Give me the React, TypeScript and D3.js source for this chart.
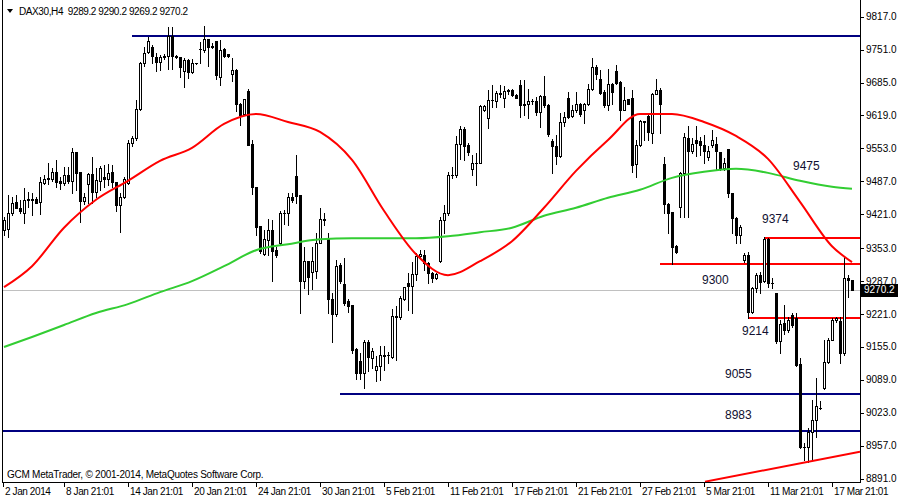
import React from 'react';
import * as d3 from 'd3';

const opens = [9390,9391,9423,9446,9433,9423,9450,9451,9452,9446,9484,9491,9491,9505,9487,9484,9500,9488,9545,9506,9448,9482,9502,9466,9488,9495,9491,9506,9485,9439,9455,9483,9563,9573,9633,9724,9746,9756,9737,9727,9736,9739,9778,9738,9737,9709,9730,9706,9724,9752,9750,9772,9758,9769,9697,9752,9742,9702,9710,9643,9622,9669,9562,9475,9398,9341,9370,9390,9349,9363,9423,9423,9455,9498,9460,9288,9328,9306,9308,9364,9411,9373,9251,9221,9319,9281,9247,9239,9150,9126,9102,9164,9132,9109,9116,9137,9139,9134,9216,9216,9251,9284,9278,9301,9337,9339,9323,9304,9293,9328,9410,9423,9500,9500,9562,9591,9560,9511,9523,9524,9630,9613,9650,9649,9664,9655,9669,9670,9660,9680,9641,9642,9649,9649,9625,9658,9640,9567,9558,9538,9605,9655,9617,9629,9642,9629,9642,9673,9717,9693,9667,9640,9683,9709,9687,9630,9653,9655,9522,9560,9607,9618,9583,9663,9671,9522,9442,9426,9357,9436,9503,9573,9547,9570,9567,9560,9536,9560,9562,9546,9513,9551,9463,9413,9380,9329,9339,9226,9273,9299,9288,9371,9284,9263,9166,9203,9190,9219,9213,9121,8955,8955,8985,9009,9032,9072,9124,9170,9209,9208,9142,9293,9289.2];
const highs = [9416,9460,9456,9460,9450,9473,9466,9464,9456,9496,9500,9524,9513,9530,9496,9516,9516,9553,9545,9506,9463,9503,9536,9513,9518,9520,9522,9520,9485,9463,9495,9570,9578,9650,9726,9757,9777,9760,9744,9740,9742,9797,9797,9740,9737,9734,9732,9732,9725,9766,9798,9772,9764,9769,9770,9754,9743,9734,9712,9645,9653,9672,9570,9476,9398,9390,9411,9410,9355,9428,9430,9464,9464,9540,9460,9355,9328,9355,9383,9433,9423,9383,9263,9329,9323,9333,9251,9239,9152,9142,9169,9169,9152,9136,9156,9156,9144,9231,9237,9257,9276,9303,9326,9343,9349,9349,9326,9306,9303,9416,9440,9506,9516,9577,9597,9595,9563,9540,9543,9640,9640,9670,9680,9669,9680,9678,9673,9672,9663,9690,9691,9673,9653,9657,9660,9698,9643,9571,9580,9623,9625,9667,9640,9667,9645,9645,9683,9734,9720,9710,9670,9712,9685,9720,9689,9677,9653,9671,9570,9610,9608,9620,9664,9693,9675,9535,9443,9426,9360,9506,9583,9597,9573,9597,9575,9580,9558,9589,9575,9546,9533,9551,9463,9416,9400,9344,9346,9276,9303,9306,9376,9373,9293,9264,9209,9239,9216,9224,9223,9132,8962,8992,9049,9092,9046,9169,9174,9213,9216,9216,9336,9299,9290.2];
const lows = [9380,9375,9420,9433,9423,9404,9436,9420,9443,9421,9482,9482,9488,9476,9471,9480,9483,9463,9470,9406,9442,9444,9443,9456,9470,9476,9480,9476,9428,9385,9453,9482,9557,9570,9630,9718,9744,9724,9709,9710,9732,9712,9712,9734,9697,9676,9694,9704,9722,9725,9747,9718,9754,9692,9680,9737,9737,9689,9627,9600,9620,9560,9462,9380,9343,9339,9339,9288,9335,9360,9402,9400,9446,9443,9224,9274,9261,9271,9293,9363,9400,9223,9164,9217,9283,9239,9226,9142,9090,9090,9072,9106,9112,9086,9089,9109,9122,9132,9129,9211,9249,9229,9224,9289,9335,9309,9283,9286,9291,9326,9383,9420,9493,9496,9531,9530,9540,9500,9480,9523,9627,9593,9637,9637,9657,9637,9663,9658,9655,9615,9620,9613,9643,9620,9595,9637,9578,9503,9522,9536,9597,9613,9615,9625,9618,9603,9640,9671,9693,9662,9637,9629,9643,9683,9610,9629,9642,9506,9496,9558,9570,9570,9564,9663,9583,9423,9383,9321,9344,9416,9416,9416,9543,9538,9540,9523,9530,9556,9510,9510,9510,9456,9383,9364,9364,9326,9213,9223,9266,9263,9286,9276,9273,9162,9142,9182,9186,9196,9116,8952,8929,8925,8929,8975,9030,9070,9122,9169,9206,9122,9139,9256,9269.2];
const closes = [9410,9424,9444,9433,9428,9450,9451,9450,9444,9485,9491,9493,9505,9486,9484,9500,9488,9545,9504,9448,9456,9502,9466,9490,9514,9491,9504,9485,9439,9456,9491,9563,9573,9633,9724,9744,9769,9738,9727,9736,9738,9778,9738,9737,9716,9730,9707,9724,9724,9753,9772,9756,9756,9700,9750,9739,9738,9710,9643,9620,9652,9560,9475,9396,9348,9371,9390,9348,9339,9423,9424,9455,9450,9458,9288,9328,9296,9328,9364,9411,9410,9251,9221,9317,9288,9244,9237,9148,9102,9102,9164,9134,9147,9117,9139,9139,9139,9217,9217,9253,9275,9277,9301,9337,9341,9323,9304,9293,9301,9410,9423,9500,9499,9562,9591,9558,9545,9523,9524,9638,9638,9650,9651,9665,9663,9669,9670,9660,9655,9641,9642,9648,9649,9625,9658,9640,9582,9557,9538,9605,9615,9615,9630,9642,9622,9642,9673,9716,9702,9665,9640,9683,9667,9685,9629,9651,9643,9520,9560,9607,9606,9585,9663,9671,9643,9442,9423,9356,9346,9503,9575,9547,9562,9563,9560,9547,9548,9570,9547,9513,9524,9463,9413,9380,9395,9339,9226,9273,9299,9286,9371,9283,9283,9166,9202,9190,9209,9199,9119,8955,8955,8985,9009,9036,9032,9124,9170,9209,9213,9142,9293,9289,9270.2];

const xTickLabels = ['2 Jan 2014','8 Jan 21:01','14 Jan 21:01','20 Jan 21:01','24 Jan 21:01','30 Jan 21:01','5 Feb 21:01','11 Feb 21:01','17 Feb 21:01','21 Feb 21:01','27 Feb 21:01','5 Mar 21:01','11 Mar 21:01','17 Mar 21:01'];
const xTickStep = 16;
const yTicks = [9817,9751,9685,9619,9553,9487,9421,9353,9287,9221,9155,9089,9023,8957,8891];

const maBars = [1,8,16,24,32,40,48,56,64,72,80,88,96,104,112,120,128,136,144,152,160,168,176,184,192,200,208,213];
const maFast = [9275,9317,9394,9450,9488,9528,9554,9602,9622,9606,9586,9530,9428,9341,9299,9327,9367,9434,9508,9570,9622,9622,9606,9578,9532,9446,9357,9325];
const maSlow = [9155,9175,9199,9223,9241,9265,9287,9317,9349,9361,9371,9373,9373,9373,9377,9385,9394,9418,9434,9454,9470,9494,9506,9512,9504,9488,9476,9472];

const blueLevels = [9779, 9061, 8987];
const blueFrom = [33, 85, 0];
const redLevels = [9374, 9321, 9214];
const redFrom = [191, 165, 187];
const trendBars = [176.25, 215];
const trendPrices = [8885, 8945];

const noteTexts = ['9475','9374','9300','9214','9055','8983'];
const noteBars = [198.25, 190.5, 175.5, 185.5, 181.25, 181.25];
const notePrices = [9510, 9404, 9281, 9179, 9093, 9011];

const header = 'DAX30,H4  9289.2 9290.2 9269.2 9270.2';
const copyright = 'GCM MetaTrader, \u00a9 2001-2014, MetaQuotes Software Corp.';
const lastPrice = 9270.2;

const W = 900, H = 500;
const plotRight = 860, plotBottom = 482;

export default function App() {
  const x = d3.scaleLinear().domain([0, 215]).range([0, 860]);
  const y = d3.scaleLinear().domain([8891, 9817]).range([478.7, 16.7]);
  const line = d3.line<[number, number]>().x(d => x(d[0])).y(d => y(d[1])).curve(d3.curveMonotoneX);
  const fontAxis = '"Liberation Sans", Arial, sans-serif';

  const candles = opens.map((o, i) => {
    const k = i + 1;
    const cx = Math.round(x(k));
    const c = closes[i];
    const yh = Math.round(y(highs[i]));
    const yl = Math.round(y(lows[i]));
    const yt = Math.round(y(Math.max(o, c)));
    const yb = Math.round(y(Math.min(o, c)));
    const bull = c >= o;
    const h = yb - yt;
    return (
      <g key={i}>
        <line x1={cx + 0.5} x2={cx + 0.5} y1={yh} y2={yl + 1} stroke="#000" strokeWidth={1} />
        {h < 1 ? (
          <line x1={cx - 1} x2={cx + 2} y1={yt + 0.5} y2={yt + 0.5} stroke="#000" strokeWidth={1} />
        ) : bull ? (
          <rect x={cx - 0.5} y={yt + 0.5} width={2} height={h} fill="#fff" stroke="#000" strokeWidth={1} />
        ) : (
          <rect x={cx - 1} y={yt} width={3} height={h + 1} fill="#000" />
        )}
      </g>
    );
  });

  const fastPts = maBars.map((b, i) => [b, maFast[i]] as [number, number]);
  const slowPts = maBars.map((b, i) => [b, maSlow[i]] as [number, number]);

  return (
    <svg width={W} height={H} style={{ position: 'absolute', left: 0, top: 0, background: '#fff' }}>
      <defs>
        <clipPath id="plot">
          <rect x={3} y={3} width={plotRight - 3} height={plotBottom - 3} />
        </clipPath>
      </defs>
      <rect x={0} y={0} width={W} height={H} fill="#fff" />
      <g clipPath="url(#plot)" shapeRendering="crispEdges">
        <line x1={0} x2={plotRight} y1={Math.round(y(lastPrice)) + 0.5} y2={Math.round(y(lastPrice)) + 0.5} stroke="#c0c0c0" />
        {blueLevels.map((p, i) => (
          <line key={'b' + i} x1={x(blueFrom[i])} x2={plotRight} y1={Math.round(y(p))} y2={Math.round(y(p))} stroke="#000080" strokeWidth={2} />
        ))}
        {redLevels.map((p, i) => (
          <line key={'r' + i} x1={x(redFrom[i])} x2={plotRight} y1={Math.round(y(p))} y2={Math.round(y(p))} stroke="#ff0000" strokeWidth={2} />
        ))}
        {candles}
      </g>
      <g clipPath="url(#plot)">
        <path d={line(slowPts) || ''} fill="none" stroke="#32cd32" strokeWidth={2} />
        <path d={line(fastPts) || ''} fill="none" stroke="#ff0000" strokeWidth={2} />
        <line x1={x(trendBars[0])} y1={y(trendPrices[0])} x2={x(trendBars[1])} y2={y(trendPrices[1])} stroke="#ff0000" strokeWidth={2} />
        {noteTexts.map((t, i) => (
          <text key={'n' + i} x={x(noteBars[i])} y={y(notePrices[i])} fontFamily={fontAxis} fontSize={12} fill="#101030">{t}</text>
        ))}
      </g>
      <g shapeRendering="crispEdges">
        <line x1={2.5} x2={2.5} y1={0} y2={plotBottom} stroke="#000" />
        <line x1={plotRight + 0.5} x2={plotRight + 0.5} y1={0} y2={plotBottom} stroke="#000" />
        <line x1={2} x2={plotRight + 1} y1={plotBottom + 0.5} y2={plotBottom + 0.5} stroke="#000" />
        {yTicks.map((t, i) => (
          <line key={'yt' + i} x1={plotRight} x2={plotRight + 4} y1={Math.round(y(t)) + 0.5} y2={Math.round(y(t)) + 0.5} stroke="#000" />
        ))}
        {xTickLabels.map((t, i) => (
          <line key={'xt' + i} x1={Math.max(3, x(i * xTickStep)) + 0.5} x2={Math.max(3, x(i * xTickStep)) + 0.5} y1={plotBottom} y2={plotBottom + 5} stroke="#000" />
        ))}
      </g>
      {yTicks.map((t, i) => (
        <text key={'yl' + i} x={866} y={y(t)} dy="0.35em" fontFamily={fontAxis} fontSize={10} fill="#000">{t.toFixed(1)}</text>
      ))}
      <rect x={861} y={Math.round(y(lastPrice)) - 6} width={37} height={13} fill="#000" />
      <text x={864} y={y(lastPrice)} dy="0.35em" fontFamily={fontAxis} fontSize={10} fill="#fff">{lastPrice.toFixed(1)}</text>
      {xTickLabels.map((t, i) => (
        <text key={'xl' + i} x={Math.max(3, x(i * xTickStep)) + 2} y={495} fontFamily={fontAxis} fontSize={10} letterSpacing={-0.4} fill="#000">{t}</text>
      ))}
      <path d="M7,9 L13,9 L10,13 Z" fill="#000" />
      <text x={19} y={15} fontFamily={fontAxis} fontSize={10} letterSpacing={-0.4} fill="#000" style={{ whiteSpace: 'pre' }}>{header}</text>
      <text x={7} y={478} fontFamily={fontAxis} fontSize={10} letterSpacing={-0.25} fill="#000">{copyright}</text>
    </svg>
  );
}
